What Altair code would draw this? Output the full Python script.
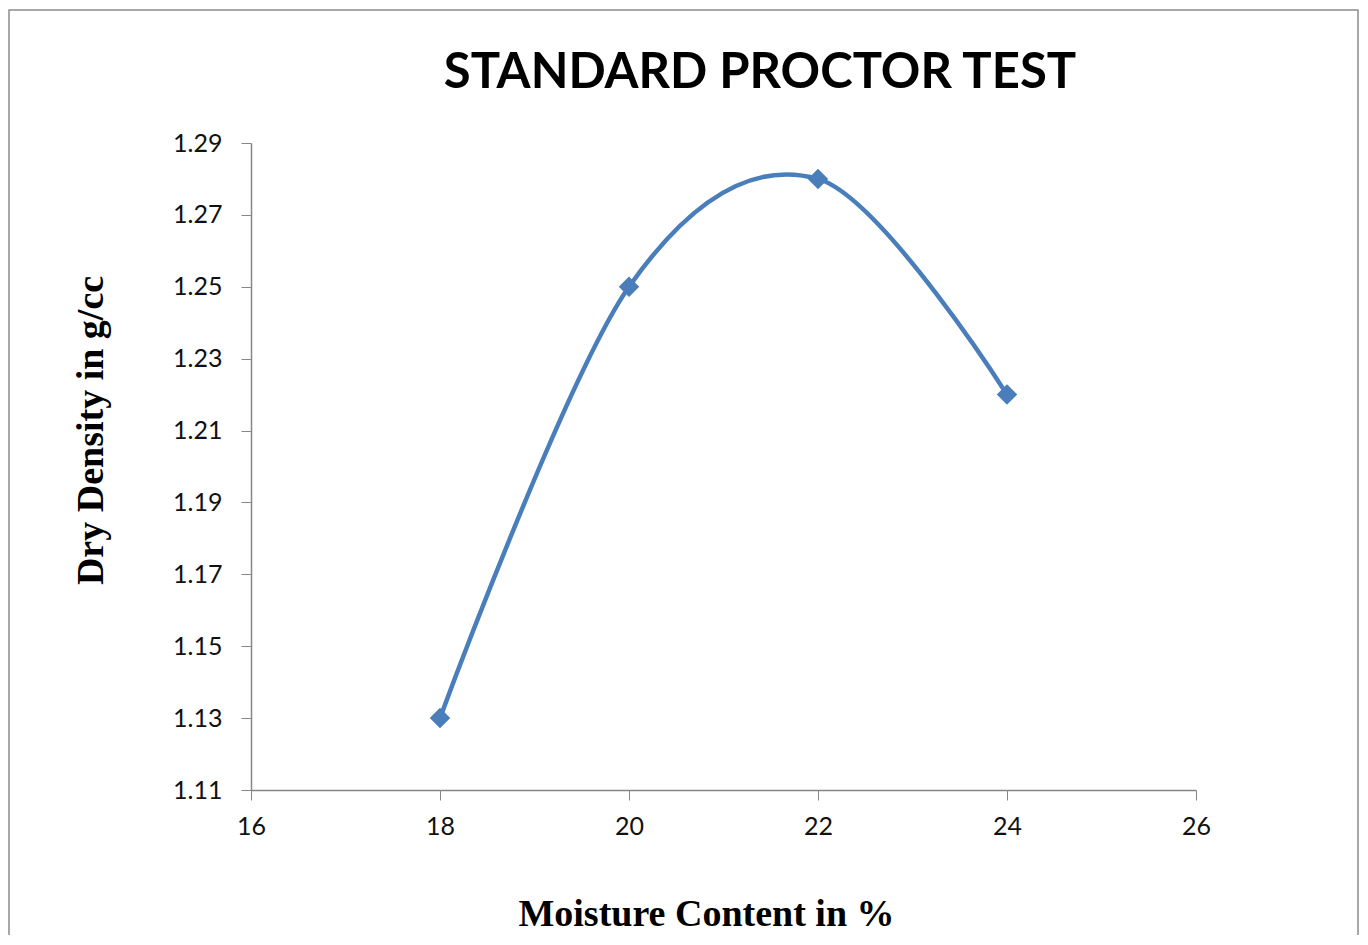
import altair as alt
import pandas as pd

moisture = [18, 20, 22, 24]
density = [1.13, 1.25, 1.28, 1.22]
x_ticks = [16, 18, 20, 22, 24, 26]
y_ticks = [1.11, 1.13, 1.15, 1.17, 1.19, 1.21, 1.23, 1.25, 1.27, 1.29]
chart_title = "STANDARD PROCTOR TEST"

df = pd.DataFrame({"moisture": moisture, "density": density})

W, H = 945, 647
BLUE = "#4a7ebb"

x_enc = alt.X(
    "moisture:Q",
    scale=alt.Scale(domain=[16, 26], nice=False, zero=False),
    axis=alt.Axis(
        values=x_ticks, format="d", grid=False, labelFlush=False,
        title="Moisture Content in %",
        titleFont="Liberation Serif", titleFontSize=38, titleFontWeight="bold",
        titleColor="#000000", titleX=455, titleY=135, titleAnchor="middle",
        titleAlign="center", titleBaseline="alphabetic",
        labelFont="Lato", labelFontSize=25, labelColor="#111111", labelPadding=14,
        domainColor="#868686", tickColor="#868686", tickSize=10, domainWidth=1.5,
    ),
)
y_enc = alt.Y(
    "density:Q",
    scale=alt.Scale(domain=[1.11, 1.29], nice=False, zero=False),
    axis=alt.Axis(
        values=y_ticks, format=".2f", grid=False, labelFlush=False,
        title="Dry Density in g/cc",
        titleFont="Liberation Serif", titleFontSize=38, titleFontWeight="bold",
        titleColor="#000000", titleX=-160, titleY=287, titleAngle=270,
        titleAlign="center", titleBaseline="middle",
        labelFont="Lato", labelFontSize=25, labelColor="#111111", labelPadding=19,
        domainColor="#868686", tickColor="#868686", tickSize=10, domainWidth=1.5,
    ),
)

line = alt.Chart(df).mark_line(
    interpolate="cardinal", color=BLUE, strokeWidth=4.5
).encode(x=x_enc, y=y_enc)

points = alt.Chart(df).mark_point(
    shape="diamond", filled=True, color=BLUE, size=420, opacity=1
).encode(x="moisture:Q", y="density:Q")

frame = alt.Chart(pd.DataFrame({"a": [0]})).mark_rect(
    fill=None, stroke="#8c8c8c", strokeWidth=1.5
).encode(
    x=alt.value(-242), x2=alt.value(W + 162),
    y=alt.value(-133), y2=alt.value(H + 200),
)

title = alt.Chart(pd.DataFrame({"t": [chart_title]})).mark_text(
    font="Lato", fontSize=49, fontWeight="bold", color="#000000",
    align="center", baseline="alphabetic",
).encode(
    text="t:N", x=alt.value(509), y=alt.value(-55),
)

chart = alt.layer(frame, title, line, points).properties(
    width=W, height=H,
    background="white",
    padding={"left": 243, "top": 135, "right": 164, "bottom": 145},
    autosize=alt.AutoSizeParams(type="none"),
).configure_view(stroke=None)

chart.save("out.html", embed_options={"renderer": "svg", "actions": False})
